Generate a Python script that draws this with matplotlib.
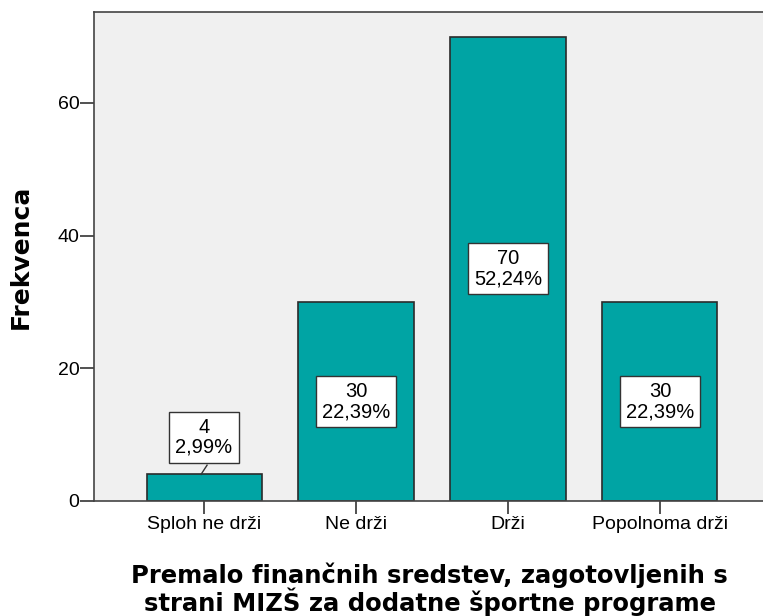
import matplotlib.pyplot as plt

categories = ["Sploh ne drži", "Ne drži", "Drži", "Popolnoma drži"]
counts = [4, 30, 70, 30]
percents = ["2,99%", "22,39%", "52,24%", "22,39%"]

plt.rcParams['font.family'] = ['Liberation Sans', 'DejaVu Sans']

fig = plt.figure(figsize=(7.63, 6.16), dpi=100)
ax = fig.add_axes([0.1232, 0.1867, 0.8768, 0.7938])
ax.set_facecolor("#f0f0f0")

x = range(len(categories))
ax.bar(x, counts, width=0.757, color="#00a4a4", edgecolor="#2b2b2b", linewidth=1.2, zorder=2)

ax.set_xlim(-0.724, 3.678)
ax.set_ylim(0, 73.7)

for i, (c, p) in enumerate(zip(counts, percents)):
    if c < 10:
        # small bar: label above with a leader line
        ax.plot([i - 0.02, i + 0.02], [c, c + 1.4], color="#333333", lw=1, zorder=3)
        ypos = c + 5.6
    else:
        ypos = c / 2
    ax.text(i, ypos, f"{c}\n{p}", ha="center", va="center", fontsize=14.5,
            linespacing=1.08, zorder=4,
            bbox=dict(boxstyle="square,pad=0.3", facecolor="white", edgecolor="#333333", lw=1))

ax.set_xticks(list(x))
ax.set_xticklabels(categories, fontsize=14)
ax.set_yticks([0, 20, 40, 60])
ax.tick_params(axis="y", labelsize=14, length=10, width=1.2, color="#333333", pad=0.5)
ax.tick_params(axis="x", length=9, width=1.2, color="#333333", pad=2)

for s in ["left", "bottom", "top"]:
    ax.spines[s].set_color("#444444")
    ax.spines[s].set_linewidth(1.2)
ax.spines["right"].set_visible(False)

ax.set_ylabel("Frekvenca", fontsize=18, fontweight="bold", family="DejaVu Sans")
ax.yaxis.set_label_coords(-0.092, 0.5)
ax.set_xlabel("Premalo finančnih sredstev, zagotovljenih s\nstrani MIZŠ za dodatne športne programe",
              fontsize=17.5, fontweight="bold", linespacing=1.0, family="DejaVu Sans")
ax.xaxis.set_label_coords(0.502, -0.125)
ax.xaxis.label.set_va("top")

fig.savefig("out.png", dpi=100)
